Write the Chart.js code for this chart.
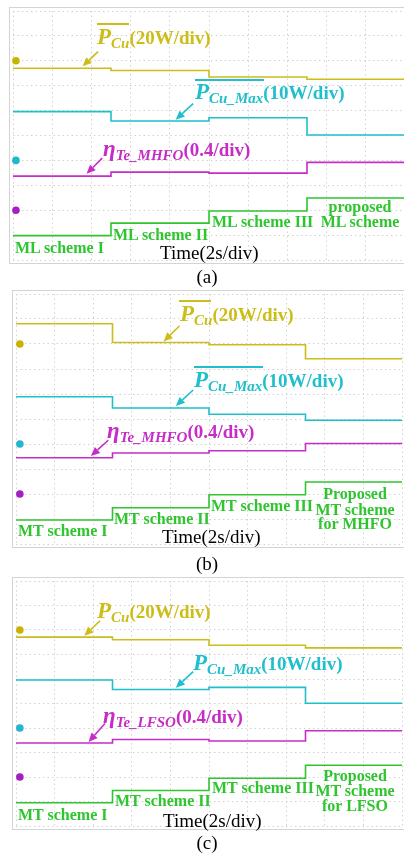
<!DOCTYPE html>
<html lang="en">
<head>
<meta charset="UTF-8">
<meta name="viewport" content="width=device-width, initial-scale=1.0">
<title>Copper loss and efficiency under ML / MT schemes</title>
<script src="https://cdn.jsdelivr.net/npm/chart.js"></script>
<style>
  body { margin: 0; background: #fff; }
  #page { position: relative; width: 404px; height: 856px; overflow: hidden;
          font-family: "Liberation Serif", "DejaVu Serif", serif; }
  canvas { position: absolute; }
  .frame { position: absolute; outline: 1px solid #d4d4d4; outline-offset: -1px; pointer-events: none; }
  .lbl { position: absolute; white-space: nowrap; line-height: 1; font-weight: bold; font-size: 19px; }
  .lbl .big { font-size: 23px; font-style: italic; }
  .lbl sub { font-size: 15px; font-style: italic; vertical-align: -4px; line-height: 1; }
  .over { position: absolute; height: 2px; }
  .scheme { position: absolute; white-space: nowrap; line-height: 1; font-weight: bold; font-size: 16px; color: #2fc52f; }
  .center { width: 120px; text-align: center; }
  .time { position: absolute; font-size: 19px; line-height: 1; white-space: nowrap; }
  .cap { position: absolute; font-size: 19px; line-height: 1; width: 60px; text-align: center; }
  .yel { color: #cdbd18; } .cya { color: #1fbfcb; } .mag { color: #c62cc6; }
</style>
</head>
<body>
<div id="page">
    <!-- (a) -->
    <canvas id="chartA" width="400" height="257" style="left:9px;top:7px"></canvas>
    <div class="frame" style="left:9px;top:7px;width:400px;height:257px"></div>
    <div class="over" style="left:97px;top:23px;width:32px;background:#cdbd18"></div>
    <div class="lbl yel" style="left:97px;top:25px"><span class="big">P</span><sub>Cu</sub>(20W/div)</div>
    <div class="over" style="left:195px;top:79px;width:69px;background:#1fbfcb"></div>
    <div class="lbl cya" style="left:195px;top:80px"><span class="big">P</span><sub>Cu_Max</sub>(10W/div)</div>
    <div class="lbl mag" style="left:103px;top:137px"><span class="big">η</span><sub>Te_MHFO</sub>(0.4/div)</div>
    <div class="scheme" style="left:15px;top:240px">ML scheme I</div>
    <div class="scheme" style="left:113px;top:227px">ML scheme II</div>
    <div class="scheme" style="left:212px;top:214px">ML scheme III</div>
    <div class="scheme center" style="left:300px;top:199px">proposed</div>
    <div class="scheme center" style="left:300px;top:214px">ML scheme</div>
    <div class="time" style="left:160px;top:243px">Time(2s/div)</div>
    <div class="cap" style="left:177px;top:267px">(a)</div>

    <!-- (b) -->
    <canvas id="chartB" width="394" height="258" style="left:12px;top:290px"></canvas>
    <div class="frame" style="left:12px;top:290px;width:394px;height:258px"></div>
    <div class="over" style="left:179px;top:300px;width:32px;background:#cdbd18"></div>
    <div class="lbl yel" style="left:180px;top:302px"><span class="big">P</span><sub>Cu</sub>(20W/div)</div>
    <div class="over" style="left:194px;top:366px;width:69px;background:#1fbfcb"></div>
    <div class="lbl cya" style="left:194px;top:368px"><span class="big">P</span><sub>Cu_Max</sub>(10W/div)</div>
    <div class="lbl mag" style="left:107px;top:419px"><span class="big">η</span><sub>Te_MHFO</sub>(0.4/div)</div>
    <div class="scheme" style="left:18px;top:523px">MT scheme I</div>
    <div class="scheme" style="left:114px;top:511px">MT scheme II</div>
    <div class="scheme" style="left:211px;top:498px">MT scheme III</div>
    <div class="scheme center" style="left:295px;top:486px">Proposed</div>
    <div class="scheme center" style="left:295px;top:502px">MT scheme</div>
    <div class="scheme center" style="left:295px;top:516px">for MHFO</div>
    <div class="time" style="left:162px;top:527px">Time(2s/div)</div>
    <div class="cap" style="left:177px;top:554px">(b)</div>

    <!-- (c) -->
    <canvas id="chartC" width="394" height="253" style="left:12px;top:577px"></canvas>
    <div class="frame" style="left:12px;top:577px;width:394px;height:253px"></div>
    <div class="lbl yel" style="left:97px;top:599px"><span class="big">P</span><sub>Cu</sub>(20W/div)</div>
    <div class="lbl cya" style="left:193px;top:651px"><span class="big">P</span><sub>Cu_Max</sub>(10W/div)</div>
    <div class="lbl mag" style="left:103px;top:704px"><span class="big">η</span><sub>Te_LFSO</sub>(0.4/div)</div>
    <div class="scheme" style="left:18px;top:807px">MT scheme I</div>
    <div class="scheme" style="left:115px;top:793px">MT scheme II</div>
    <div class="scheme" style="left:212px;top:780px">MT scheme III</div>
    <div class="scheme center" style="left:295px;top:768px">Proposed</div>
    <div class="scheme center" style="left:295px;top:783px">MT scheme</div>
    <div class="scheme center" style="left:295px;top:798px">for LFSO</div>
    <div class="time" style="left:163px;top:811px">Time(2s/div)</div>
    <div class="cap" style="left:177px;top:833px">(c)</div>
</div>

<script>
    // time (s) where each scheme starts, plus the end of the record
    const stepTimes = [0, 5, 10, 15, 20];

    // trace levels in screen divisions from the bottom, one per scheme
    // (a) ML schemes
    const pcuA = [7.70, 7.61, 7.35, 7.26];
    const pcuMaxA = [5.96, 5.58, 5.71, 5.02];
    const etaA = [3.37, 3.53, 3.49, 3.92];
    const schemeA = [0.98, 1.48, 1.97, 2.49];
    // (b) MT schemes, MHFO
    const pcuB = [8.81, 8.06, 7.97, 7.41];
    const pcuMaxB = [5.89, 5.44, 5.19, 4.95];
    const etaB = [3.45, 3.64, 3.73, 4.02];
    const schemeB = [0.96, 1.45, 1.97, 2.48];
    // (c) MT schemes, LFSO
    const pcuC = [7.71, 7.60, 7.38, 7.27];
    const pcuMaxC = [5.96, 5.57, 5.66, 5.01];
    const etaC = [3.39, 3.53, 3.47, 3.89];
    const schemeC = [0.95, 1.45, 1.95, 2.48];

    // channel reference markers (divisions): P_Cu, P_Cu_Max, eta
    const groundLevels = [8, 4, 2];

    const YELLOW = "#cdbd18", CYAN = "#1fbfcb", MAGENTA = "#c62cc6", GREEN = "#2fc52f";

    // label arrows: [tailTime, tailDiv, tipTime, tipDiv]
    const arrowsA = [
        { c: YELLOW, p: [4.34, 8.37, 3.55, 7.78] },
        { c: CYAN, p: [9.19, 6.28, 8.30, 5.63] },
        { c: MAGENTA, p: [4.55, 4.09, 3.75, 3.46] }
    ];
    const arrowsB = [
        { c: YELLOW, p: [8.48, 8.73, 7.65, 8.10] },
        { c: CYAN, p: [9.18, 6.16, 8.28, 5.52] },
        { c: MAGENTA, p: [4.78, 4.15, 3.88, 3.52] }
    ];
    const arrowsC = [
        { c: YELLOW, p: [4.35, 8.37, 3.54, 7.77] },
        { c: CYAN, p: [9.18, 6.30, 8.28, 5.64] },
        { c: MAGENTA, p: [4.61, 4.18, 3.76, 3.43] }
    ];

    function steps(levels) {
        return stepTimes.map((t, i) => ({ x: t, y: levels[Math.min(i, levels.length - 1)] }));
    }

    function trace(levels, color) {
        return { data: steps(levels), borderColor: color, borderWidth: 1.6, pointRadius: 0, stepped: true, fill: false };
    }

    function arrowPlugin(list) {
        return {
            id: "arrows",
            afterDatasetsDraw(chart) {
                const ctx = chart.ctx, xs = chart.scales.x, ys = chart.scales.y;
                list.forEach(a => {
                    const x1 = xs.getPixelForValue(a.p[0]), y1 = ys.getPixelForValue(a.p[1]);
                    const x2 = xs.getPixelForValue(a.p[2]), y2 = ys.getPixelForValue(a.p[3]);
                    const ang = Math.atan2(y2 - y1, x2 - x1);
                    const len = 9, half = 4;
                    const bx = x2 - len * Math.cos(ang), by = y2 - len * Math.sin(ang);
                    ctx.save();
                    ctx.strokeStyle = a.c;
                    ctx.fillStyle = a.c;
                    ctx.lineWidth = 1.6;
                    ctx.beginPath();
                    ctx.moveTo(x1, y1);
                    ctx.lineTo(bx, by);
                    ctx.stroke();
                    ctx.beginPath();
                    ctx.moveTo(x2, y2);
                    ctx.lineTo(bx + half * Math.sin(ang), by - half * Math.cos(ang));
                    ctx.lineTo(bx - half * Math.sin(ang), by + half * Math.cos(ang));
                    ctx.closePath();
                    ctx.fill();
                    ctx.restore();
                });
            }
        };
    }

    function makeChart(id, pcu, pcuMax, eta, scheme, arrows, markerTime) {
        const gridStyle = { color: "#d2d2d2", drawTicks: false, lineWidth: 1 };
        new Chart(document.getElementById(id), {
            type: "line",
            data: {
                datasets: [
                    trace(scheme, GREEN),
                    trace(eta, MAGENTA),
                    trace(pcuMax, CYAN),
                    trace(pcu, YELLOW),
                    {
                        type: "scatter",
                        data: groundLevels.map(v => ({ x: markerTime, y: v })),
                        pointRadius: 3.8,
                        pointBorderWidth: 0,
                        pointBackgroundColor: ["#c8b400", "#22b6cf", "#a21fc0"],
                        showLine: false,
                        clip: false
                    }
                ]
            },
            options: {
                responsive: false,
                animation: false,
                devicePixelRatio: 1,
                layout: { padding: 0 },
                plugins: { legend: { display: false }, tooltip: { enabled: false } },
                scales: {
                    x: { type: "linear", min: 0, max: 20, ticks: { display: false, stepSize: 2 },
                         grid: gridStyle, border: { display: false, dash: [1.5, 3] } },
                    y: { type: "linear", min: 0, max: 10, ticks: { display: false, stepSize: 1 },
                         grid: gridStyle, border: { display: false, dash: [1.5, 3] } }
                }
            },
            plugins: [arrowPlugin(arrows)]
        });
    }

    makeChart("chartA", pcuA, pcuMaxA, etaA, schemeA, arrowsA, 0.15);
    makeChart("chartB", pcuB, pcuMaxB, etaB, schemeB, arrowsB, 0.2);
    makeChart("chartC", pcuC, pcuMaxC, etaC, schemeC, arrowsC, 0.2);
</script>
</body>
</html>
